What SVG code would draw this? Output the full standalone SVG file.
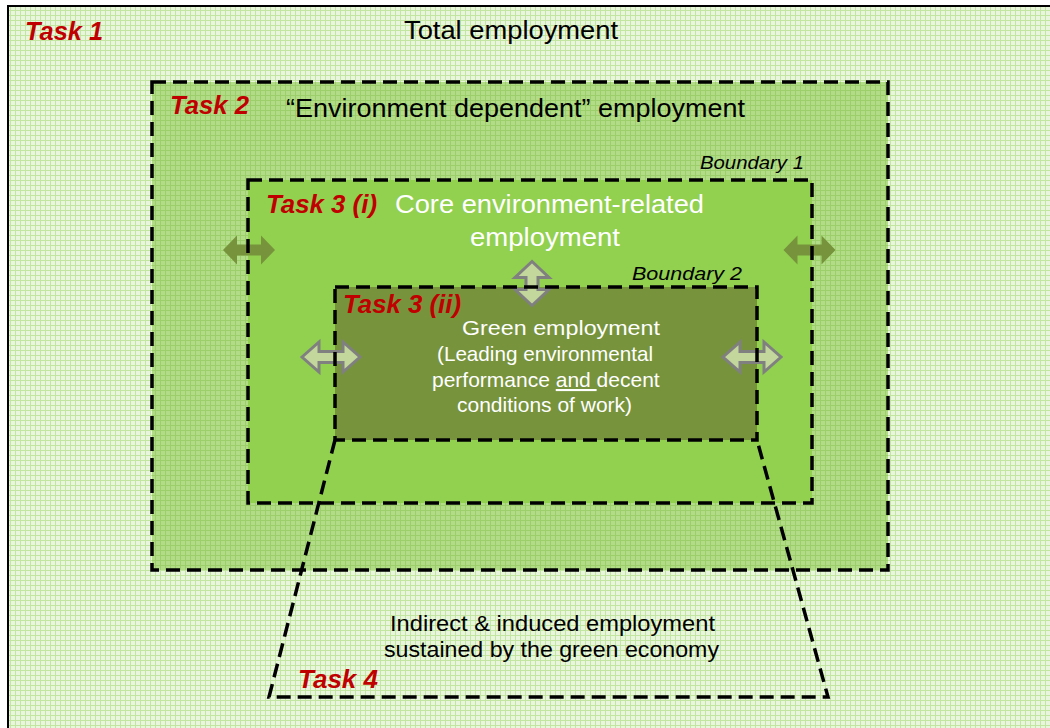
<svg xmlns="http://www.w3.org/2000/svg" width="1050" height="728" viewBox="0 0 1050 728">
<defs>
<pattern id="plaid" width="5" height="5" patternUnits="userSpaceOnUse">
<rect width="5" height="5" fill="#e9f5dd"/>
<rect width="1" height="5" fill="#c2e69f"/>
<rect width="5" height="1" fill="#c2e69f"/>
</pattern>
<pattern id="grid2" width="5" height="5" patternUnits="userSpaceOnUse">
<rect width="5" height="5" fill="#b2dc88"/>
<rect width="1" height="5" fill="#9ccf6a"/>
<rect width="5" height="1" fill="#9ccf6a"/>
</pattern>
<path id="outerArrow" d="M-26,0 L-12,-14.5 L-12,-5.5 L12,-5.5 L12,-14.5 L26,0 L12,14.5 L12,5.5 L-12,5.5 L-12,14.5 Z"/>
<path id="innerArrowH" d="M-29,0 L-12,-15 L-12,-5.5 L12,-5.5 L12,-15 L29,0 L12,15 L12,5.5 L-12,5.5 L-12,15 Z"/>
<path id="innerArrowV" d="M0,-22 L-17,-6 L-6,-6 L-6,6 L-17,6 L0,22 L17,6 L6,6 L6,-6 L17,-6 Z"/>
</defs>
<style>
.dash{fill:none;stroke:#000;stroke-width:3.5;stroke-dasharray:14 7}
.task{font-family:"Liberation Sans",Arial,sans-serif;font-weight:bold;font-style:italic;fill:#c00000;font-size:26px}
.main{font-family:"Liberation Sans",Arial,sans-serif;font-size:26.7px;fill:#000}
.white{fill:#fff}
.bnd{font-family:"Liberation Sans",Arial,sans-serif;font-style:italic;font-size:18px;fill:#000}
.small{font-family:"Liberation Sans",Arial,sans-serif;font-size:21px;fill:#fff}
.ind{font-family:"Liberation Sans",Arial,sans-serif;font-size:22.5px;fill:#000}
.oarrow{fill:#77933c}
.iarrow{fill:#c3d69b;stroke:#808080;stroke-width:3;stroke-linejoin:miter}
</style>
<rect width="1050" height="728" fill="#fff"/>
<g id="task1">
<rect x="8" y="6" width="1042" height="722" fill="url(#plaid)"/>
<path d="M8,728 L8,6 L1050,6" fill="none" stroke="#000" stroke-width="2"/>
<text class="task" x="25" y="40" textLength="78" lengthAdjust="spacingAndGlyphs">Task 1</text>
<text class="main" x="404" y="39" textLength="214" lengthAdjust="spacingAndGlyphs">Total employment</text>
</g>
<g id="task2">
<rect x="152" y="82" width="736" height="488" fill="url(#grid2)"/>
<text class="task" x="170" y="114" textLength="79" lengthAdjust="spacingAndGlyphs">Task 2</text>
<text class="main" x="286" y="117" textLength="459" lengthAdjust="spacingAndGlyphs">“Environment dependent” employment</text>
<text class="bnd" x="700" y="169" textLength="104" lengthAdjust="spacingAndGlyphs">Boundary 1</text>
</g>
<g id="task3i">
<rect x="248" y="180" width="564" height="323" fill="#92d050"/>
<text class="task" x="266" y="213" textLength="111" lengthAdjust="spacingAndGlyphs">Task 3 (i)</text>
<text class="main white" x="395" y="213" textLength="309" lengthAdjust="spacingAndGlyphs">Core environment-related</text>
<text class="main white" x="470" y="246" textLength="150" lengthAdjust="spacingAndGlyphs">employment</text>
<text class="bnd" x="632" y="280" textLength="110" lengthAdjust="spacingAndGlyphs">Boundary  2</text>
</g>
<g id="task3ii">
<rect x="335" y="287" width="422" height="153" fill="#77933c"/>
</g>
<g id="arrows">
<use href="#outerArrow" class="oarrow" transform="translate(249,250)"/>
<use href="#outerArrow" class="oarrow" transform="translate(809.5,250)"/>
<use href="#innerArrowH" class="iarrow" transform="translate(331,357)"/>
<use href="#innerArrowH" class="iarrow" transform="translate(752,357)"/>
<use href="#innerArrowV" class="iarrow" transform="translate(532,283.5)"/>
</g>
<g id="connectors">
<rect class="dash" x="152" y="82" width="736" height="488"/>
<rect class="dash" x="248" y="180" width="564" height="323"/>
<rect class="dash" x="335" y="287" width="422" height="153"/>
<path class="dash" d="M335,440 L269,697 L828,697 L757,440"/>
</g>
<g id="task3ii-text">
<text class="task" x="343" y="313" textLength="118" lengthAdjust="spacingAndGlyphs">Task 3 (ii)</text>
<text class="small" x="462" y="335" textLength="198" lengthAdjust="spacingAndGlyphs">Green employment</text>
<text class="small" x="437" y="361" textLength="216" lengthAdjust="spacingAndGlyphs">(Leading environmental</text>
<text class="small" x="432" y="387">performance <tspan text-decoration="underline">and </tspan>decent</text>
<text class="small" x="457" y="412">conditions of work)</text>
</g>
<g id="task4">
<text class="ind" x="390" y="631" textLength="325" lengthAdjust="spacingAndGlyphs">Indirect &amp;  induced employment</text>
<text class="ind" x="384" y="657" textLength="335" lengthAdjust="spacingAndGlyphs">sustained by the green economy</text>
<text class="task" x="298" y="688" textLength="80" lengthAdjust="spacingAndGlyphs">Task 4</text>
</g>
</svg>
